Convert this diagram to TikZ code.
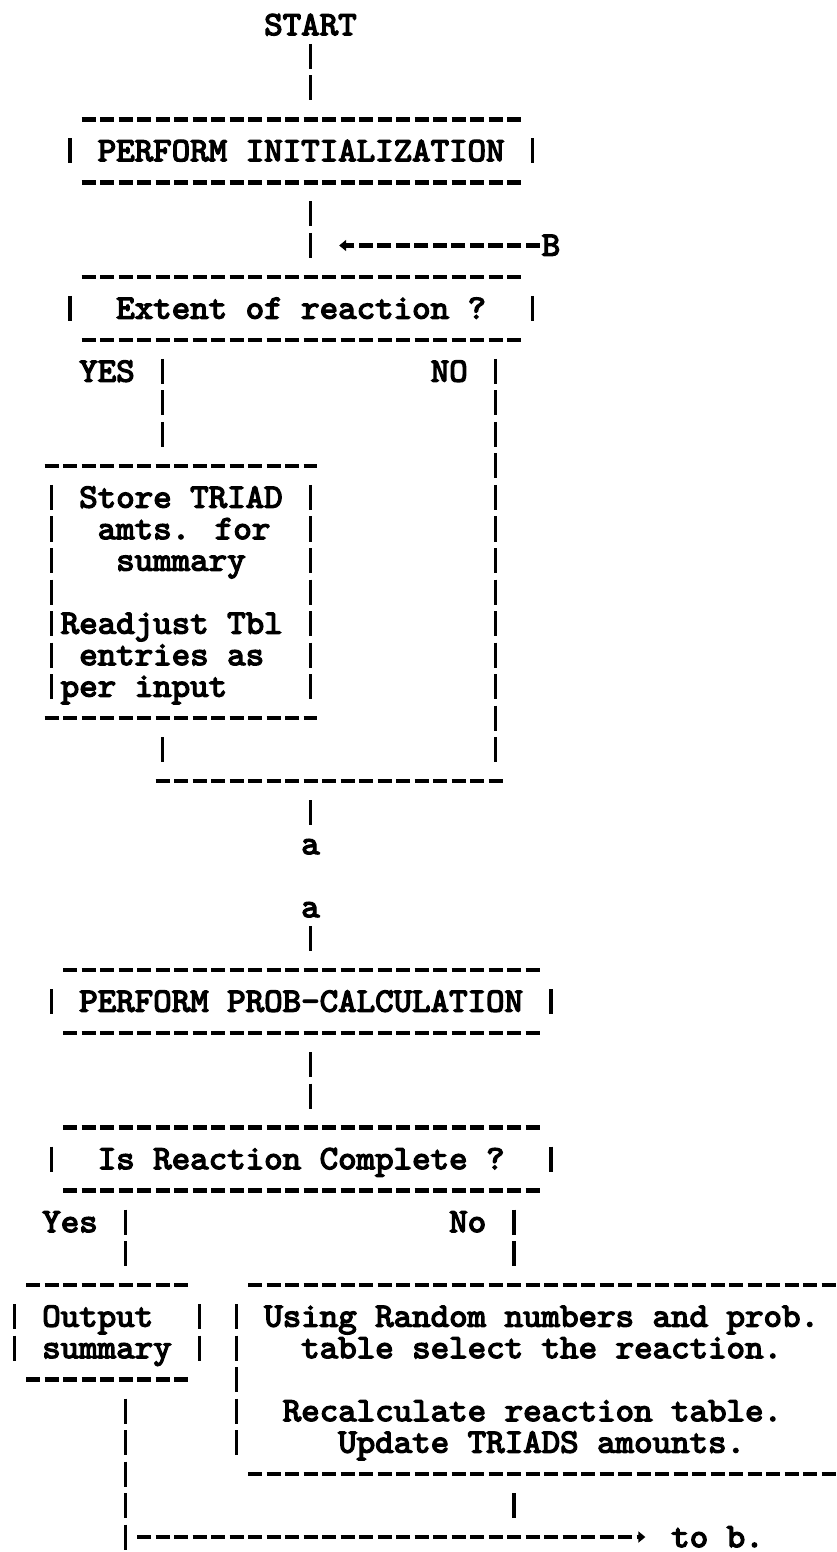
\documentclass[tikz,border=0pt]{standalone}
\usepackage{fontspec}
\newfontfamily\typew[FakeBold=4,FakeStretch=1.036]{lmmono10-regular.otf}
\usetikzlibrary{arrows.meta}
\tikzset{
  txt/.style={anchor=base west, inner sep=0pt, outer sep=0pt,
    font=\typew\fontsize{34}{36}\selectfont},
  pipe/.style={line width=3.9pt, dash pattern=on 25pt off 6.5pt},
  dashrow/.style={line width=4.4pt, dash pattern=on 14pt off 4.5pt},
  tip/.style={-{Triangle[length=7pt,width=11pt]}}
}
% text placed on a character grid: column g, line n
\newcommand\gtext[4]{\node[txt] (#1) at ({#2-0.5},{#3+0.32}) {#4};}
% vertical run of '|' characters in column g from line n1 to n2
\newcommand\vpipe[4]{\coordinate (#1-t) at (#2,{#3-0.397});
  \coordinate (#1-b) at (#2,{#4+0.397});
  \draw[pipe] (#1-t) -- (#1-b);}
% row of '-' characters from column g1 to g2 on line n
\newcommand\hrow[4]{\coordinate (#1-l) at ({#2-0.378},#4);
  \coordinate (#1-r) at ({#3+0.378},#4);
  \draw[dashrow] (#1-l) -- (#1-r);}
\begin{document}
\begin{tikzpicture}[x=18.5pt, y=-31.5pt]
\useasboundingbox (-14.5pt,25pt) rectangle (822.5pt,-1527pt);
\fill[white] (-14.5pt,25pt) rectangle (822.5pt,-1527pt);

% ---- START and initialization
\gtext{start}{14}{0}{START}
\vpipe{c1}{16}{1}{2}
\hrow{initT}{4}{27}{3}
\vpipe{initL}{3}{4}{4}
\gtext{init}{5}{4}{PERFORM INITIALIZATION}
\vpipe{initR}{28}{4}{4}
\hrow{initB}{4}{27}{5}
\vpipe{c2}{16}{6}{7}

% ---- return arrow from B
\gtext{B}{29}{7}{B}
\coordinate (bs) at (28.378,7);
\coordinate (be) at (17.55,7);
\draw[dashrow, tip] (bs) -- (be);

% ---- Extent of reaction ?
\hrow{extT}{4}{27}{8}
\vpipe{extL}{3}{9}{9}
\gtext{extent}{6}{9}{Extent of reaction ?}
\vpipe{extR}{28}{9}{9}
\hrow{extB}{4}{27}{10}
\gtext{yes}{4}{11}{YES}
\gtext{no}{23}{11}{NO}
\vpipe{yesP}{8}{11}{13}
\vpipe{noP}{26}{11}{23}

% ---- Store TRIAD box
\hrow{stT}{2}{16}{14}
\vpipe{stL}{2}{15}{21}
\vpipe{stR}{16}{15}{21}
\gtext{st1}{4}{15}{Store TRIAD}
\gtext{st2}{5}{16}{amts. for}
\gtext{st3}{6}{17}{summary}
\gtext{st4}{3}{19}{Readjust Tbl}
\gtext{st5}{4}{20}{entries as}
\gtext{st6}{3}{21}{per input}
\hrow{stB}{2}{16}{22}
\vpipe{stO}{8}{23}{23}

% ---- merge and connector a
\hrow{merge}{8}{26}{24}
\vpipe{mO}{16}{25}{25}
\gtext{a1}{16}{26}{a}
\gtext{a2}{16}{28}{a}
\vpipe{aI}{16}{29}{29}

% ---- PERFORM PROB-CALCULATION
\hrow{prT}{3}{28}{30}
\vpipe{prL}{2}{31}{31}
\gtext{prob}{4}{31}{PERFORM PROB-CALCULATION}
\vpipe{prR}{29}{31}{31}
\hrow{prB}{3}{28}{32}
\vpipe{c3}{16}{33}{34}

% ---- Is Reaction Complete ?
\hrow{isT}{3}{28}{35}
\vpipe{isL}{2}{36}{36}
\gtext{isrc}{5}{36}{Is Reaction Complete ?}
\vpipe{isR}{29}{36}{36}
\hrow{isB}{3}{28}{37}
\gtext{yes2}{2}{38}{Yes}
\gtext{no2}{24}{38}{No}
\vpipe{yes2P}{6}{38}{39}
\vpipe{no2P}{27}{38}{39}

% ---- Output summary box
\hrow{outT}{1}{9}{40}
\vpipe{outL}{0}{41}{42}
\vpipe{outR}{10}{41}{42}
\gtext{out1}{2}{41}{Output}
\gtext{out2}{2}{42}{summary}
\hrow{outB}{1}{9}{43}

% ---- Random numbers box
\hrow{rnT}{13}{44}{40}
\vpipe{rnL}{12}{41}{45}
\gtext{rn1}{14}{41}{Using Random numbers and prob.}
\gtext{rn2}{16}{42}{table select the reaction.}
\gtext{rn3}{15}{44}{Recalculate reaction table.}
\gtext{rn4}{18}{45}{Update TRIADS amounts.}
\hrow{rnB}{13}{44}{46}
\vpipe{rnO}{27}{47}{47}

% ---- to b.
\vpipe{outO}{6}{44}{48}
\coordinate (ts) at (6.622,48);
\coordinate (te) at (34.1,48);
\draw[dashrow, tip] (ts) -- (te);
\gtext{tob}{36}{48}{to b.}
\end{tikzpicture}
\end{document}
